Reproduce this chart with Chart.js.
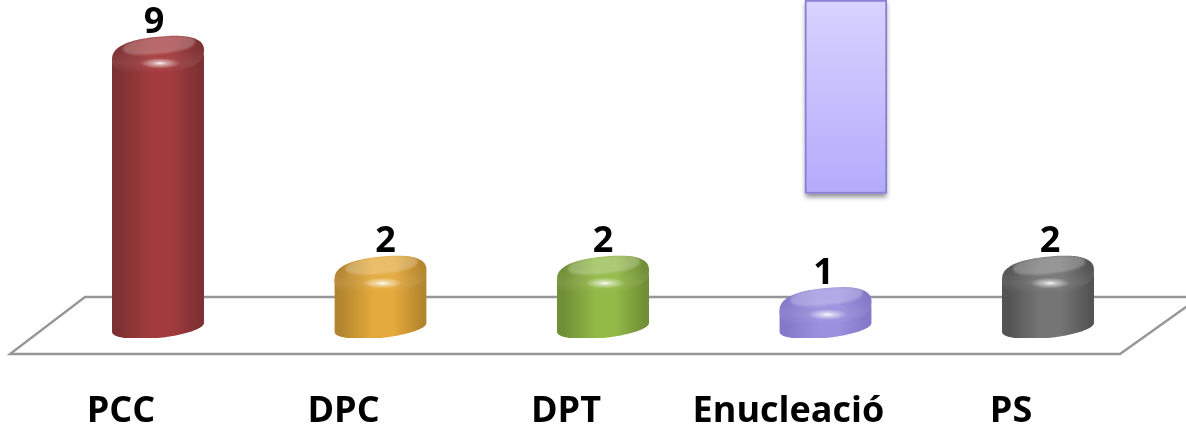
<!DOCTYPE html>
<html>
<head>
<meta charset="utf-8">
<style>
    html, body { margin: 0; padding: 0; background: #fff; overflow: hidden; }
    canvas { display: block; }
</style>
<script src="https://cdn.jsdelivr.net/npm/chart.js@4/dist/chart.umd.min.js"></script>
</head>
<body>
<canvas id="cylinderChart" width="1186" height="427"></canvas>
<script>
const categories = ['PCC', 'DPC', 'DPT', 'Enucleació', 'PS'];
const counts = [9, 2, 2, 1, 2];
const panelSpan = [4.6, 10.76];
const panelCenter = 3.201;

// [edge, mid] colour of each cylinder
const edgeColors = ['#7e3133', '#b4852f', '#708f36', '#8479c9', '#545454'];
const midColors = ['#a33b3d', '#e4aa3b', '#93b947', '#9a90de', '#757575'];
const labelShift = [-4, 5, 0, -2, 2];

const BAR_WIDTH = 92;
const CAP_RY = 18.5;
const BASE_RY = 10.5;
const SLOPE = -0.098;
const SLANT = -SLOPE * BAR_WIDTH / 2;

function sideGradient(ctx) {
    const chart = ctx.chart;
    const i = ctx.dataIndex;
    if (!chart.chartArea) return midColors[i];
    const cx = chart.scales.x.getPixelForValue(i);
    const g = chart.ctx.createLinearGradient(cx - BAR_WIDTH / 2, 0, cx + BAR_WIDTH / 2, 0);
    g.addColorStop(0, edgeColors[i]);
    g.addColorStop(0.07, edgeColors[i]);
    g.addColorStop(0.42, midColors[i]);
    g.addColorStop(0.64, midColors[i]);
    g.addColorStop(0.95, edgeColors[i]);
    g.addColorStop(1, edgeColors[i]);
    return g;
}

function panelGradient(ctx) {
    const chart = ctx.chart;
    if (!chart.chartArea) return '#c4bdfd';
    const y = chart.scales.y;
    const g = chart.ctx.createLinearGradient(0, y.getPixelForValue(panelSpan[1]), 0, y.getPixelForValue(panelSpan[0]));
    g.addColorStop(0, '#d8d3ff');
    g.addColorStop(1, '#b3abfb');
    return g;
}

function drawFloor(ctx) {
    ctx.save();
    ctx.strokeStyle = '#979797';
    ctx.lineWidth = 2.4;
    ctx.beginPath();
    ctx.moveTo(1200, 297);
    ctx.lineTo(85, 297);
    ctx.lineTo(10, 354);
    ctx.lineTo(1120, 354);
    ctx.lineTo(1200, 297);
    ctx.stroke();
    ctx.restore();
}

// sheared superellipse: the ends stay exactly on the cylinder's sides
function traceOval(ctx, cx, cy, rx, ry, power) {
    for (let a = 0; a < 360; a += 3) {
        const t = a * Math.PI / 180;
        const px = rx * Math.sign(Math.cos(t)) * Math.pow(Math.abs(Math.cos(t)), 2 / power);
        const py = ry * Math.sign(Math.sin(t)) * Math.pow(Math.abs(Math.sin(t)), 2 / power);
        const x = cx + px;
        const y = cy + py + px * SLOPE;
        if (a === 0) ctx.moveTo(x, y); else ctx.lineTo(x, y);
    }
    ctx.closePath();
}

function drawCap(ctx, bar) {
    const cx = bar.x;
    const cy = bar.y;
    ctx.save();
    ctx.beginPath();
    traceOval(ctx, cx, cy, BAR_WIDTH / 2, CAP_RY, 2.5);
    ctx.clip();
    ctx.fillStyle = bar.options.backgroundColor;
    ctx.fillRect(cx - BAR_WIDTH, cy - 40, BAR_WIDTH * 2, 80);

    // soft light across the rim
    const rim = ctx.createLinearGradient(0, cy - 8, 0, cy + 18);
    rim.addColorStop(0, 'rgba(255,255,255,0)');
    rim.addColorStop(0.6, 'rgba(255,255,255,0.08)');
    rim.addColorStop(1, 'rgba(255,255,255,0)');
    ctx.fillStyle = rim;
    ctx.fillRect(cx - BAR_WIDTH, cy - 8, BAR_WIDTH * 2, 26);

    // flat top of the cylinder
    ctx.filter = 'blur(1px)';
    ctx.fillStyle = 'rgba(255,255,255,0.24)';
    ctx.beginPath();
    traceOval(ctx, cx + 1, cy - 10, 36, 8.5, 2.4);
    ctx.fill();
    ctx.restore();

    // specular spot on the rim
    ctx.save();
    ctx.translate(cx + 2, cy + 8);
    ctx.scale(1, 0.27);
    const spot = ctx.createRadialGradient(0, 0, 0, 0, 0, 20);
    spot.addColorStop(0, 'rgba(255,255,255,0.95)');
    spot.addColorStop(0.35, 'rgba(255,255,255,0.5)');
    spot.addColorStop(1, 'rgba(255,255,255,0)');
    ctx.fillStyle = spot;
    ctx.beginPath();
    ctx.arc(0, 0, 20, 0, Math.PI * 2);
    ctx.fill();
    ctx.restore();
}

const cylinderPlugin = {
    id: 'cylinder',
    beforeDatasetsDraw(chart) {
        drawFloor(chart.ctx);
    },
    beforeDatasetDraw(chart, args) {
        const ctx = chart.ctx;
        ctx.save();
        if (args.index === 1) {
            // the bar element clips to itself, so its drop shadow goes down first
            const bar = args.meta.data[0];
            ctx.save();
            ctx.shadowColor = 'rgba(0,0,0,0.45)';
            ctx.shadowBlur = 5;
            ctx.shadowOffsetY = 3;
            ctx.fillStyle = '#b3abfb';
            ctx.fillRect(bar.x - bar.width / 2, Math.min(bar.y, bar.base), bar.width, Math.abs(bar.base - bar.y));
            ctx.restore();
            return;
        }
        // body of each cylinder: slanted top edge, rounded foot
        const baseY = chart.scales.y.getPixelForValue(0) - BASE_RY;
        ctx.beginPath();
        args.meta.data.forEach(bar => {
            const l = bar.x - BAR_WIDTH / 2;
            const r = bar.x + BAR_WIDTH / 2;
            ctx.moveTo(l, bar.y + SLANT);
            ctx.lineTo(r, bar.y - SLANT);
            ctx.lineTo(r, baseY - SLANT);
            ctx.lineTo(l, baseY + SLANT);
            ctx.closePath();
            traceOval(ctx, bar.x, baseY, BAR_WIDTH / 2, BASE_RY, 2);
        });
        ctx.clip();
    },
    afterDatasetDraw(chart, args) {
        const ctx = chart.ctx;
        ctx.restore();
        if (args.index === 1) return;
        args.meta.data.forEach(bar => drawCap(ctx, bar));
    },
    afterDatasetsDraw(chart) {
        const ctx = chart.ctx;
        const bars = chart.getDatasetMeta(0).data;
        ctx.save();
        ctx.font = 'bold 36px "Open Sans"';
        ctx.fillStyle = '#000';
        ctx.textAlign = 'center';
        ctx.textBaseline = 'middle';
        bars.forEach((bar, i) => {
            ctx.fillText(counts[i], bar.x + labelShift[i], bar.y - 33);
        });
        ctx.restore();
    }
};

new Chart(document.getElementById('cylinderChart'), {
    type: 'bar',
    data: {
        labels: categories,
        datasets: [
            {
                data: counts,
                backgroundColor: sideGradient,
                borderWidth: 0,
                barThickness: BAR_WIDTH,
                grouped: false,
                order: 1
            },
            {
                data: [{ x: panelCenter, y: panelSpan }],
                xAxisID: 'xPanel',
                backgroundColor: panelGradient,
                borderColor: '#8a80d8',
                borderWidth: 2,
                borderSkipped: false,
                barThickness: 82,
                grouped: false,
                order: 2
            }
        ]
    },
    options: {
        responsive: false,
        animation: false,
        layout: { padding: { left: 46.75, right: 26.75, top: 0, bottom: 0 } },
        plugins: {
            legend: { display: false },
            tooltip: { enabled: false }
        },
        scales: {
            x: {
                grid: { display: false, drawTicks: false },
                border: { display: false },
                ticks: {
                    color: '#000',
                    font: { family: 'Open Sans', size: 36, weight: 'bold' },
                    padding: 52,
                    labelOffset: -37,
                    maxRotation: 0,
                    autoSkip: false
                },
                afterFit(scale) { scale.height = 89; }
            },
            xPanel: {
                type: 'linear',
                axis: 'x',
                display: false,
                min: -0.5,
                max: 4.5
            },
            y: {
                display: false,
                min: 0,
                max: 10.76
            }
        }
    },
    plugins: [cylinderPlugin]
});
</script>
</body>
</html>
